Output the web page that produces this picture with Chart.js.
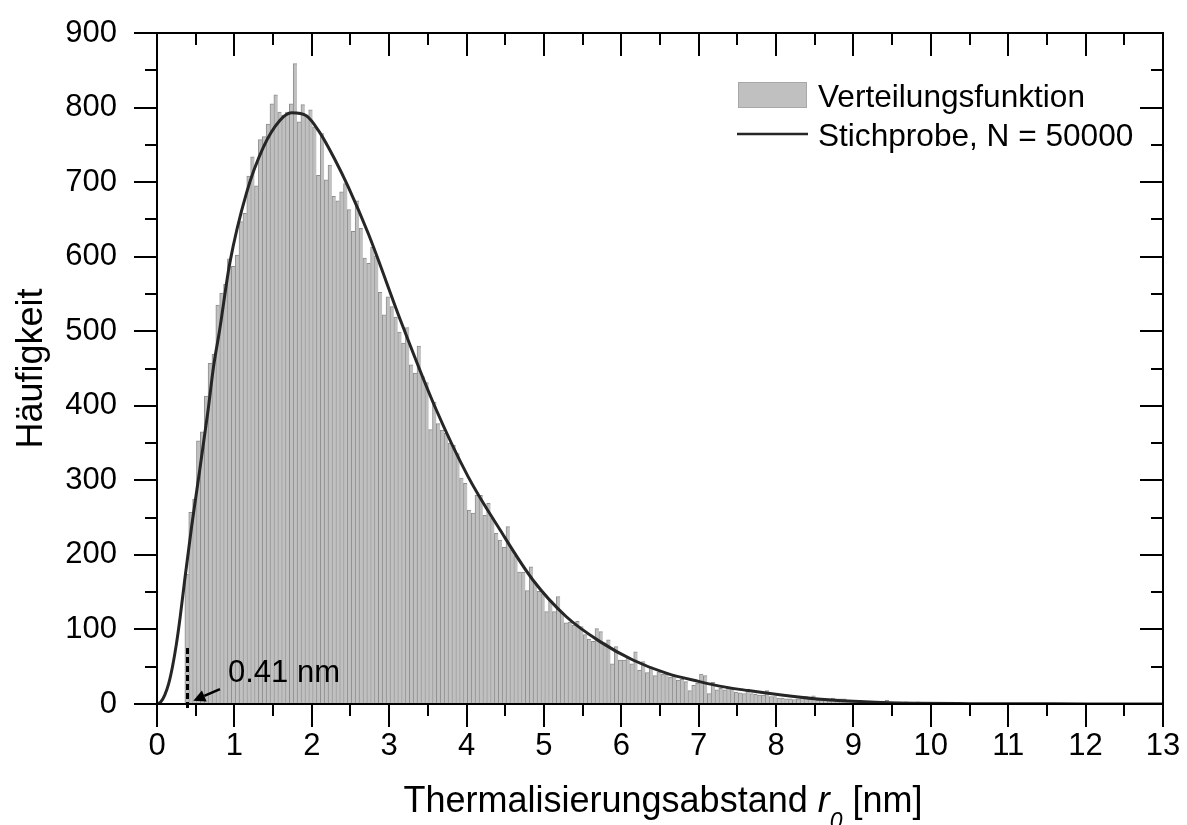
<!DOCTYPE html>
<html>
<head>
<meta charset="utf-8">
<script src="https://cdn.jsdelivr.net/npm/chart.js@4.4.1/dist/chart.umd.min.js"></script>
<style>
  html, body { margin: 0; padding: 0; background: #ffffff; }
  canvas { display: block; }
</style>
</head>
<body>
<canvas id="c" width="1187" height="825"></canvas>
<script>
// ---------- data ----------
const binStart = 0.36;      // left edge of first bin [nm]
const binWidth = 0.05;      // bin width [nm]
const counts = [
  174,257,275,353,365,413,457,469,535,551,
  563,597,587,602,647,658,708,734,695,757,
  761,778,805,817,794,790,794,805,859,781,
  804,790,797,774,709,765,703,723,681,675,
  687,698,663,634,675,638,598,591,613,601,
  552,522,546,533,519,499,484,505,455,444,
  480,439,431,368,405,376,367,363,350,347,
  336,303,296,260,256,280,280,253,269,249,
  229,220,210,238,207,199,177,177,152,184,
  163,151,148,124,139,124,144,122,109,110,
  106,111,104,93,87,84,101,97,82,86,
  54,77,59,59,63,54,70,45,57,42,
  50,38,43,40,42,36,37,32,33,30,
  18,25,28,40,38,14,29,19,21,19,
  23,20,16,15,14,20,14,13,12,12,
  18,10,10,8,8,7,7,6,7,9,
  10,6,11,5,5,5,4,8,7,7,
  7,5,4,5,5,4,3,3,3,3,
  4,5,3,3,3,2,3,2,2,3,
  2,1,2,2,1,2,1,1,2,1,
  1,1,0,1,1,1,0,1,1,0,
  1,0,1,1,0,0,1,0,0,1,
  0,0,1,0,0,0,1,0,0,0,
  0,1,0,0,0,1
];
const binCenters = counts.map((_, i) => +(binStart + binWidth * (i + 0.5)).toFixed(3));

const curveX = [0,0.05,0.1,0.15,0.2,0.25,0.3,0.36,0.45,0.515,0.66,0.73,0.81,0.94,1.155,1.375,1.59,1.74,1.93,2.1,2.3,2.47,2.73,3.16,3.59,4.02,4.43,4.86,5.29,5.72,6.15,6.59,7.01,7.27,7.64,8.07,8.5,8.93,9.36,9.8,10.5,11.5,13];
const curveY = [0,3,12,27,50,80,117,168,240,287,394,452,502,591,685,747,783,793,789,767,730,694,631,511,399,305,234,166,117,84,59,41,30,24,18,12,7,4,2,1,0.5,0.2,0];

const xTicks = [0,1,2,3,4,5,6,7,8,9,10,11,12,13];
const yTicks = [0,100,200,300,400,500,600,700,800,900];

const barLabel = 'Verteilungsfunktion';
const lineLabel = 'Stichprobe, N = 50000';
const annotText = '0.41 nm';
const yTitle = 'Häufigkeit';

// ---------- decorations ----------
const FONT = "'Liberation Sans', Arial, sans-serif";
const deco = {
  id: 'deco',
  afterDraw(chart) {
    const ctx = chart.ctx;
    const a = chart.chartArea;
    const xs = chart.scales.x, ys = chart.scales.y;
    ctx.save();
    ctx.strokeStyle = '#000';
    ctx.fillStyle = '#000';
    // frame
    ctx.lineWidth = 2;
    ctx.strokeRect(a.left, a.top, a.right - a.left, a.bottom - a.top);
    // ticks
    ctx.lineWidth = 2;
    ctx.beginPath();
    for (let v = 0; v <= 13.001; v += 0.5) {
      const px = Math.round(xs.getPixelForValue(v));
      const len = Math.abs(v - Math.round(v)) < 1e-6 ? 23 : 12;
      ctx.moveTo(px, a.bottom); ctx.lineTo(px, a.bottom + len);
      ctx.moveTo(px, a.top); ctx.lineTo(px, a.top + len);
    }
    for (let v = 0; v <= 900.01; v += 50) {
      const py = Math.round(ys.getPixelForValue(v));
      const len = (v % 100 === 0) ? 23 : 12;
      ctx.moveTo(a.left - len, py); ctx.lineTo(a.left, py);
      ctx.moveTo(a.right - len, py); ctx.lineTo(a.right, py);
    }
    ctx.stroke();

    // y title
    ctx.save();
    ctx.font = '36px ' + FONT;
    ctx.textAlign = 'center';
    ctx.textBaseline = 'alphabetic';
    ctx.translate(42, (a.top + a.bottom) / 2);
    ctx.rotate(-Math.PI / 2);
    ctx.fillText(yTitle, 0, 0);
    ctx.restore();

    // x title with italic r and subscript 0
    const parts = [
      { t: 'Thermalisierungsabstand ', f: '36px ' + FONT, dy: 0 },
      { t: 'r', f: 'italic 36px ' + FONT, dy: 0 },
      { t: '0', f: 'italic 23px ' + FONT, dy: 17 },
      { t: ' [nm]', f: '36px ' + FONT, dy: 0 }
    ];
    let total = 0;
    parts.forEach(p => { ctx.font = p.f; p.w = ctx.measureText(p.t).width; total += p.w; });
    let tx = 663 - total / 2;
    const base = 812;
    ctx.textAlign = 'left';
    parts.forEach(p => { ctx.font = p.f; ctx.fillText(p.t, tx, base + p.dy); tx += p.w; });

    // legend
    ctx.fillStyle = '#c0c0c0';
    ctx.fillRect(738, 82, 69, 26);
    ctx.strokeStyle = '#a8a8a8';
    ctx.lineWidth = 1;
    ctx.strokeRect(738.5, 82.5, 68, 25);
    ctx.strokeStyle = '#262626';
    ctx.lineWidth = 2.7;
    ctx.beginPath(); ctx.moveTo(737, 134); ctx.lineTo(808, 134); ctx.stroke();
    ctx.fillStyle = '#000';
    ctx.font = '31.6px ' + FONT;
    ctx.fillText(barLabel, 818, 107);
    ctx.fillText(lineLabel, 818, 146);

    // annotation: dashed marker, arrow, text
    const dx = Math.round(xs.getPixelForValue(0.382)) + 0.5;
    ctx.strokeStyle = '#000';
    ctx.lineWidth = 3;
    ctx.setLineDash([6, 3]);
    ctx.beginPath();
    ctx.moveTo(dx, ys.getPixelForValue(75));
    ctx.lineTo(dx, a.bottom + 4);
    ctx.stroke();
    ctx.setLineDash([]);

    const sx = xs.getPixelForValue(0.814), sy = ys.getPixelForValue(20);
    const ex = xs.getPixelForValue(0.469), ey = ys.getPixelForValue(4.4);
    const ang = Math.atan2(ey - sy, ex - sx);
    const hl = 12, hw = 6;
    const bx = ex - hl * Math.cos(ang), by = ey - hl * Math.sin(ang);
    ctx.lineWidth = 2.6;
    ctx.beginPath(); ctx.moveTo(sx, sy); ctx.lineTo(bx, by); ctx.stroke();
    ctx.beginPath();
    ctx.moveTo(ex, ey);
    ctx.lineTo(bx + hw * Math.sin(ang), by - hw * Math.cos(ang));
    ctx.lineTo(bx - hw * Math.sin(ang), by + hw * Math.cos(ang));
    ctx.closePath();
    ctx.fill();

    ctx.font = '31px ' + FONT;
    ctx.fillText(annotText, xs.getPixelForValue(0.917), ys.getPixelForValue(30));
    ctx.restore();
  }
};

// ---------- chart ----------
const tickFont = { family: FONT, size: 31 };
new Chart(document.getElementById('c'), {
  type: 'bar',
  data: {
    datasets: [
      {
        type: 'line',
        label: lineLabel,
        data: curveX.map((x, i) => ({ x: x, y: curveY[i] })),
        borderColor: '#262626',
        borderWidth: 3,
        pointRadius: 0,
        cubicInterpolationMode: 'monotone',
        fill: false,
        order: 0
      },
      {
        type: 'bar',
        label: barLabel,
        data: binCenters.map((x, i) => ({ x: x, y: counts[i] })),
        backgroundColor: '#c0c0c0',
        borderColor: '#8e8e8e',
        borderWidth: { left: 1, top: 1, right: 0, bottom: 0 },
        borderSkipped: 'start',
        barPercentage: 1,
        categoryPercentage: 1,
        order: 1
      }
    ]
  },
  options: {
    responsive: false,
    animation: false,
    devicePixelRatio: 1,
    layout: { padding: { top: 33, right: 24, left: 0, bottom: 0 } },
    plugins: { legend: { display: false }, tooltip: { enabled: false } },
    scales: {
      x: {
        type: 'linear', min: 0, max: 13, offset: false,
        afterBuildTicks: s => { s.ticks = xTicks.map(v => ({ value: v })); },
        ticks: { font: tickFont, color: '#000', padding: 1, maxRotation: 0, autoSkip: false },
        grid: { drawOnChartArea: false, tickLength: 23, color: 'rgba(0,0,0,0)' },
        border: { display: false },
        afterFit: s => { s.height = 121; s.paddingLeft = 0; s.paddingRight = 0; }
      },
      y: {
        type: 'linear', min: 0, max: 900,
        afterBuildTicks: s => { s.ticks = yTicks.map(v => ({ value: v })); },
        ticks: { font: tickFont, color: '#000', padding: 17 },
        grid: { drawOnChartArea: false, tickLength: 23, color: 'rgba(0,0,0,0)' },
        border: { display: false },
        afterFit: s => { s.width = 157; s.paddingTop = 0; s.paddingBottom = 0; }
      }
    }
  },
  plugins: [deco]
});
</script>
</body>
</html>
